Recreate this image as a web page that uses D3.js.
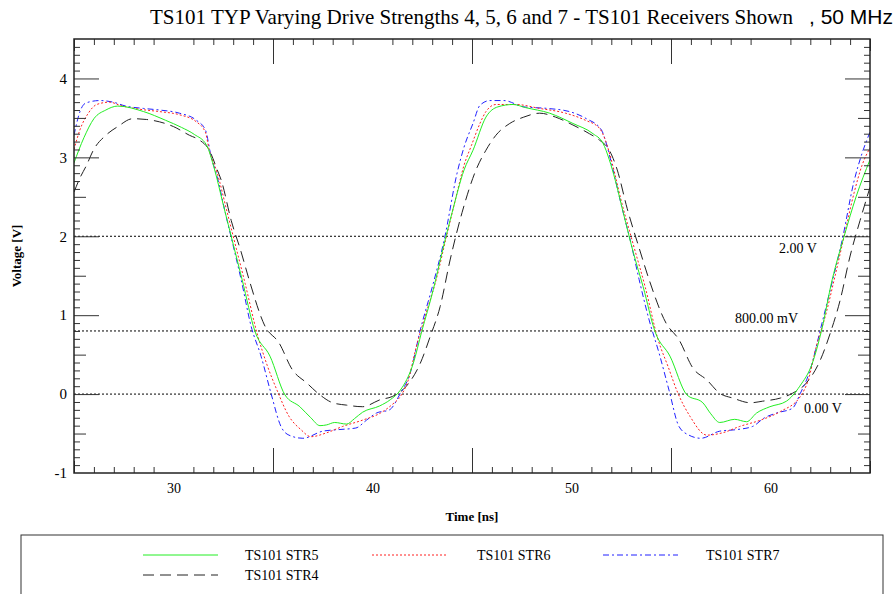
<!DOCTYPE html>
<html><head><meta charset="utf-8">
<script src="https://cdn.jsdelivr.net/npm/d3@7"></script>
<style>
body{margin:0;background:#fff;}
text{font-family:"Liberation Serif","Times New Roman",serif;}
</style></head>
<body><svg id="chart" width="895" height="594"></svg>
<script>
const titleMain = "TS101 TYP Varying Drive Strengths 4, 5, 6 and 7 - TS101 Receivers Shown";
const titleFreq = ", 50 MHz";
const xLabel = "Time [ns]";
const yLabel = "Voltage [V]";
const xTickLabels = [30, 40, 50, 60];
const yTickLabels = [-1, 0, 1, 2, 3, 4];
const refLevels = [2.0, 0.8, 0.0];
const refLabels = ["2.00 V", "800.00 mV", "0.00 V"];
const seriesNames = ["TS101 STR5", "TS101 STR6", "TS101 STR7", "TS101 STR4"];

const str5 = [[25,2.93],[25.5,3.25],[26,3.49],[26.6,3.6],[27.2,3.65],[28.5,3.58],[29.6,3.47],[30.4,3.38],[31.05,3.29],[31.65,3.16],[32.07,2.84],[32.5,2.4],[33.0,1.9],[33.45,1.45],[34.1,0.79],[34.85,0.48],[35.6,-0.01],[36.35,-0.16],[36.9,-0.3],[37.36,-0.40],[37.7,-0.39],[38.1,-0.36],[38.7,-0.38],[39.1,-0.31],[39.5,-0.23],[40.36,-0.15],[40.9,-0.07],[41.4,0.05],[42.05,0.39],[42.47,0.79],[43.05,1.32],[43.5,1.8],[44.0,2.3],[44.6,2.84],[45.05,3.09],[45.7,3.51],[46.3,3.64],[47.06,3.67],[47.7,3.63],[48.9,3.56],[50.07,3.43],[51.08,3.30],[51.58,3.18],[51.9,2.97],[52.2,2.71],[52.6,2.3],[53.1,1.8],[53.6,1.36],[54.2,0.79],[54.95,0.48],[55.8,-0.01],[56.6,-0.11],[57.0,-0.25],[57.45,-0.36],[58.2,-0.32],[58.8,-0.35],[59.3,-0.24],[59.97,-0.16],[60.8,-0.09],[61.47,0.10],[62.1,0.39],[62.55,0.79],[63.1,1.45],[63.7,2.0],[64.3,2.5],[65,2.97]];
const str6 = [[25,3.10],[25.3,3.35],[25.72,3.56],[26.14,3.67],[26.8,3.70],[27.3,3.66],[28.3,3.61],[29.3,3.58],[30.3,3.54],[31.15,3.45],[31.6,3.32],[31.8,3.09],[32.2,2.80],[32.7,2.3],[33.15,1.85],[33.6,1.40],[34.2,0.77],[34.7,0.37],[35.2,0.05],[35.8,-0.28],[36.4,-0.45],[36.9,-0.54],[37.7,-0.49],[38.5,-0.41],[39.5,-0.33],[40.4,-0.24],[41.0,-0.13],[41.4,-0.03],[41.8,0.18],[42.2,0.60],[42.7,1.03],[43.2,1.45],[43.7,1.98],[44.2,2.5],[44.6,2.9],[44.97,3.15],[45.4,3.43],[45.7,3.58],[46.2,3.67],[47.2,3.67],[48.4,3.62],[49.7,3.56],[50.7,3.47],[51.4,3.37],[51.7,3.22],[52.05,2.92],[52.5,2.45],[53.1,1.9],[53.7,1.36],[54.35,0.69],[54.85,0.35],[55.35,0.01],[55.95,-0.28],[56.8,-0.52],[57.6,-0.49],[58.45,-0.41],[59.5,-0.33],[60.5,-0.22],[61.5,-0.03],[61.9,0.18],[62.3,0.60],[62.8,1.03],[63.2,1.45],[63.7,2.0],[64.2,2.55],[64.6,2.9],[65,3.12]];
const str7 = [[25,3.28],[25.3,3.58],[25.6,3.69],[26.3,3.72],[26.96,3.70],[27.6,3.65],[28.5,3.62],[29.3,3.60],[30.3,3.56],[31.15,3.47],[31.6,3.35],[31.9,3.0],[32.2,2.75],[32.6,2.3],[33.0,1.88],[33.4,1.45],[33.9,0.86],[34.4,0.48],[34.9,0.01],[35.4,-0.41],[35.8,-0.52],[36.5,-0.56],[37.5,-0.47],[38.3,-0.45],[39.16,-0.43],[39.7,-0.33],[40.2,-0.24],[40.85,-0.2],[41.4,0.01],[41.9,0.27],[42.4,0.81],[43.05,1.40],[43.6,1.95],[44.25,2.80],[44.6,3.13],[45.05,3.43],[45.4,3.66],[45.9,3.72],[46.6,3.72],[47.6,3.64],[48.8,3.62],[49.9,3.58],[50.75,3.49],[51.5,3.35],[51.8,3.13],[52.05,2.88],[52.5,2.4],[53.0,1.9],[53.4,1.45],[53.9,0.94],[54.4,0.52],[54.9,0.05],[55.4,-0.41],[55.9,-0.52],[56.5,-0.56],[57.45,-0.47],[58.3,-0.45],[59.1,-0.41],[59.7,-0.30],[60.3,-0.24],[61.1,-0.18],[61.5,0.01],[62.0,0.31],[62.5,0.81],[63.0,1.32],[63.6,1.95],[64.2,2.7],[64.6,3.05],[65,3.32]];
const str4 = [[25,2.56],[25.3,2.74],[25.63,2.9],[25.97,3.09],[26.6,3.28],[27.2,3.39],[27.95,3.49],[28.65,3.48],[29.3,3.45],[30.0,3.39],[30.8,3.28],[31.3,3.22],[31.8,3.09],[32.2,2.84],[32.4,2.71],[32.9,2.2],[33.4,1.8],[33.8,1.45],[34.6,0.86],[35.3,0.65],[35.97,0.31],[36.7,0.14],[37.36,-0.01],[38.0,-0.11],[38.7,-0.14],[39.5,-0.16],[40.4,-0.07],[41.0,-0.03],[41.7,0.10],[42.4,0.39],[42.9,0.73],[43.4,1.11],[43.9,1.7],[44.5,2.3],[45.2,2.84],[45.7,3.09],[46.2,3.28],[46.9,3.43],[47.6,3.51],[48.4,3.56],[49.2,3.51],[50.07,3.41],[50.9,3.30],[51.4,3.22],[51.9,3.09],[52.3,2.84],[52.8,2.35],[53.4,1.85],[53.9,1.45],[54.75,0.90],[55.4,0.69],[56.1,0.33],[56.8,0.18],[57.45,0.01],[58.1,-0.05],[59.0,-0.11],[59.6,-0.09],[60.5,-0.05],[61.1,0.01],[61.8,0.14],[62.5,0.43],[63.0,0.77],[63.5,1.19],[64.0,1.75],[64.5,2.2],[65,2.62]];

const seriesData = [str5, str6, str7, str4];
const seriesColors = ["#22ee22", "#ff2020", "#2020ff", "#222222"];
const seriesDash = ["", "2,2", "6,3,2,3", "11,6"];

const svg = d3.select("#chart");
const L = 74, R = 870, T = 39, B = 473;
const x = d3.scaleLinear().domain([25, 65]).range([L, R]);
const y = d3.scaleLinear().domain([-1, 4.5]).range([B, T]);

svg.append("defs").append("clipPath").attr("id","clip")
  .append("rect").attr("x",L).attr("y",T).attr("width",R-L).attr("height",B-T);

// reference lines
const refG = svg.append("g");
refLevels.forEach((v,i)=>{
  refG.append("line").attr("x1",L).attr("x2",R).attr("y1",y(v)).attr("y2",y(v))
    .attr("stroke","#000").attr("stroke-width",1).attr("stroke-dasharray","2,2");
});
const refPos = [[779, 17], [735, -8], [804, 19]];
refLabels.forEach((t,i)=>{
  refG.append("text").attr("x",refPos[i][0]).attr("y",y(refLevels[i])+refPos[i][1])
    .attr("font-size",14).attr("fill","#000").text(t);
});

// series
const line = d3.line().x(d=>x(d[0])).y(d=>y(d[1])).curve(d3.curveMonotoneX);
const plotG = svg.append("g").attr("clip-path","url(#clip)");
[3,2,1,0].forEach(i=>{
  plotG.append("path").datum(seriesData[i]).attr("d",line)
    .attr("fill","none").attr("stroke",seriesColors[i]).attr("stroke-width",1)
    .attr("stroke-dasharray",seriesDash[i]);
});

// axes with inward ticks
function tickSet(lo, hi, step){ return d3.range(0, Math.round((hi-lo)/step)+1).map(k=>Math.round((lo+k*step)*10)/10); }
const xMinor = tickSet(25,65,1).filter(v=>v%5!==0);
const xMed = tickSet(25,65,5).filter(v=>v%10!==0);
const xMaj = tickSet(25,65,10).filter(v=>v>25 && v<65);
const yMinor = tickSet(-1,4.5,0.1).filter(v=>Math.abs(v*2-Math.round(v*2))>1e-6);
const yMed = [-0.5,0.5,1.5,2.5,3.5];
const yMaj = [0,1,2,3,4];

function drawAxis(axisFn, scale, tr, sets){
  sets.forEach(([vals,len])=>{
    const g = svg.append("g").attr("transform",tr)
      .call(axisFn(scale).tickValues(vals).tickSize(-len).tickSizeOuter(0).tickFormat(""));
    g.select(".domain").remove();
    g.selectAll("line").attr("stroke","#333");
  });
}
drawAxis(d3.axisBottom, x, `translate(0,${B})`, [[xMinor,6],[xMed,12],[xMaj,25]]);
drawAxis(d3.axisTop, x, `translate(0,${T})`, [[xMinor,6],[xMed,12],[xMaj,25]]);
drawAxis(d3.axisLeft, y, `translate(${L},0)`, [[yMinor,6],[yMed,12],[yMaj,25]]);
drawAxis(d3.axisRight, y, `translate(${R},0)`, [[yMinor,6],[yMed,12],[yMaj,25]]);

// tick labels
const xl = svg.append("g").attr("transform",`translate(0,${B})`)
  .call(d3.axisBottom(x).tickValues(xTickLabels).tickSize(0).tickPadding(10).tickFormat(d=>String(d)));
xl.select(".domain").remove();
xl.selectAll("text").attr("font-size",14).attr("fill","#000");
const yl = svg.append("g").attr("transform",`translate(${L},0)`)
  .call(d3.axisLeft(y).tickValues(yTickLabels).tickSize(0).tickPadding(7).tickFormat(d=>String(d)));
yl.select(".domain").remove();
yl.selectAll("text").attr("font-size",15).attr("fill","#000");

// frame
svg.append("rect").attr("x",L).attr("y",T).attr("width",R-L).attr("height",B-T)
  .attr("fill","none").attr("stroke","#222").attr("stroke-width",1.5);

// titles
svg.append("text").attr("x",150).attr("y",24).attr("font-size",21)
  .attr("textLength",643).attr("lengthAdjust","spacingAndGlyphs").attr("fill","#000").text(titleMain);
svg.append("text").attr("x",893).attr("y",24).attr("text-anchor","end")
  .style("font-family","'Liberation Sans',Arial,sans-serif").attr("font-size",21)
  .attr("fill","#000").text(titleFreq);
svg.append("text").attr("x",(L+R)/2).attr("y",521).attr("text-anchor","middle")
  .attr("font-size",13).attr("font-weight","bold").attr("fill","#000").text(xLabel);
svg.append("text").attr("transform",`translate(21,${(T+B)/2}) rotate(-90)`).attr("text-anchor","middle")
  .attr("font-size",13).attr("font-weight","bold").attr("fill","#000").text(yLabel);

// legend
svg.append("rect").attr("x",21).attr("y",535).attr("width",862).attr("height",80)
  .attr("fill","none").attr("stroke","#333").attr("stroke-width",1);
const legPos = [[143,555],[372,555],[603,555],[143,575]];
const legTextX = [245,477,706,245];
seriesNames.forEach((n,i)=>{
  svg.append("line").attr("x1",legPos[i][0]).attr("x2",legPos[i][0]+75)
    .attr("y1",legPos[i][1]).attr("y2",legPos[i][1])
    .attr("stroke",seriesColors[i]).attr("stroke-width",1).attr("stroke-dasharray",seriesDash[i]);
  svg.append("text").attr("x",legTextX[i]).attr("y",legPos[i][1]+5)
    .attr("font-size",14).attr("fill","#000").text(n);
});
</script></body></html>
